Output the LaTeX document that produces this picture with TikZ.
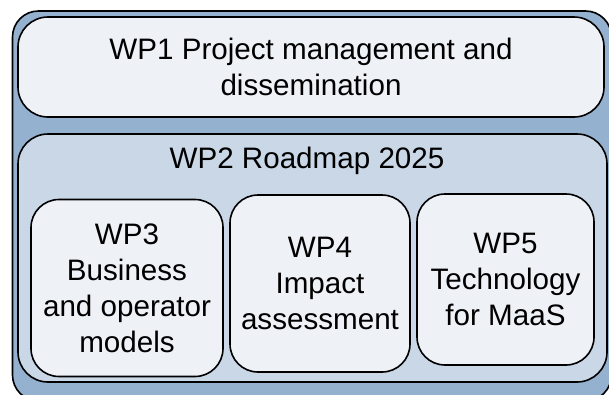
\documentclass[tikz,border=0pt]{standalone}
\usepackage{fontspec}
\setmainfont{Liberation Sans}
\definecolor{outerfill}{HTML}{95B1D0}
\definecolor{midfill}{HTML}{C9D7E7}
\definecolor{innerfill}{HTML}{EEF1F6}
\begin{document}
\begin{tikzpicture}[x=1pt,y=-1pt,
  wpbox/.style={draw=black, line width=1.6pt, rounded corners=28pt, inner sep=0pt, align=center,
    font=\fontsize{29.6}{36}\selectfont},
  wptext/.style={inner sep=0pt, align=center, font=\fontsize{29.6}{36}\selectfont}]
\useasboundingbox (0,0) rectangle (609,394);
\clip (0,0) rectangle (609,394);
\node[wpbox, fill=outerfill, minimum width=599pt, minimum height=390pt, rounded corners=26pt] (outer) at (312,206) {};
\node[wpbox, fill=innerfill, minimum width=586pt, minimum height=100pt, rounded corners=30pt] (wp1) at (311,67)
  {WP1 Project management and\\dissemination};
\node[wpbox, fill=midfill, minimum width=589pt, minimum height=248pt, rounded corners=30pt] (wp2) at (312.5,258) {};
\node[wptext] (wp2t) at (307,161) {WP2 Roadmap 2025};
\node[wpbox, fill=innerfill, minimum width=192pt, minimum height=177pt] (wp3) at (127,288)
  {WP3\\Business\\and operator\\models};
\node[wpbox, fill=innerfill, minimum width=180pt, minimum height=177pt] (wp4) at (320,283.5)
  {WP4\\Impact\\assessment};
\node[wpbox, fill=innerfill, minimum width=177pt, minimum height=171pt] (wp5) at (505.5,279.5)
  {WP5\\Technology\\for MaaS};
\end{tikzpicture}
\end{document}
